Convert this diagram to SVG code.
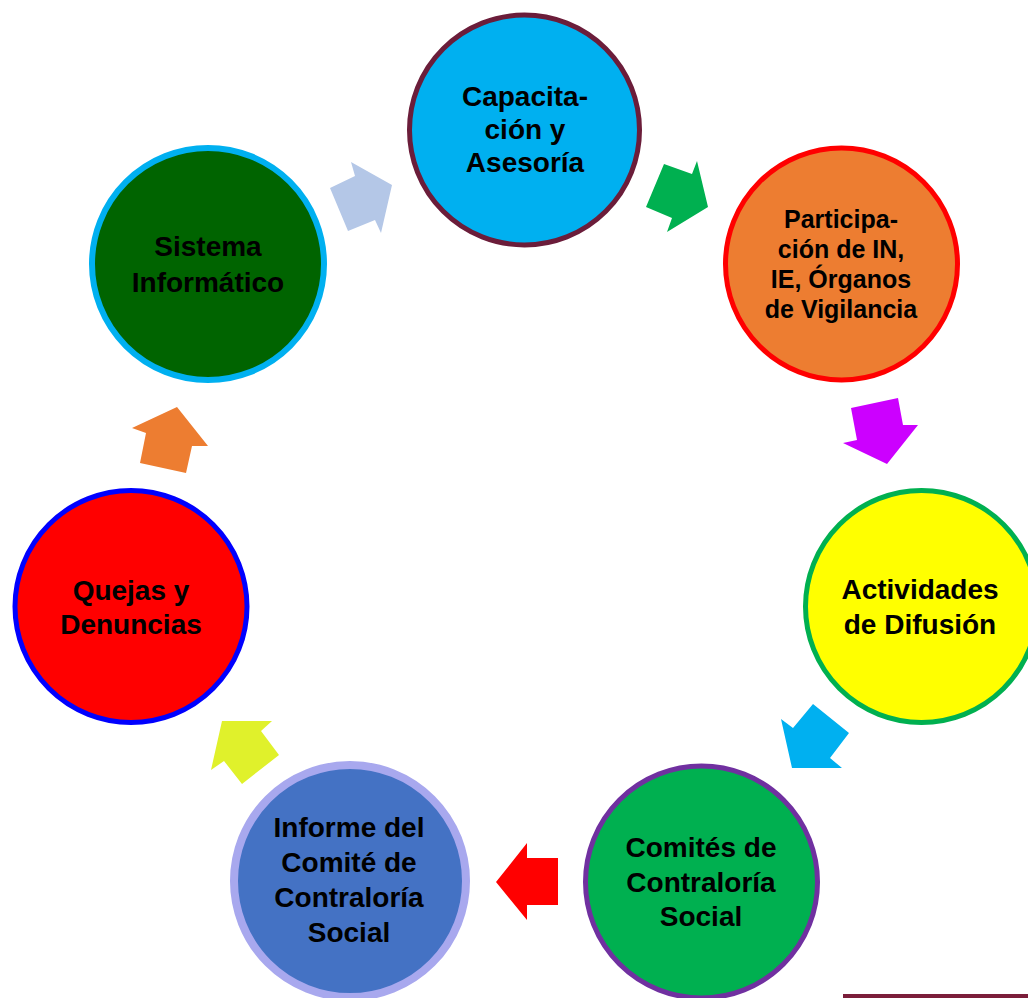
<svg xmlns="http://www.w3.org/2000/svg" width="1028" height="998" viewBox="0 0 1028 998">
<style>
text{font-family:"Liberation Sans",Arial,sans-serif;font-weight:bold;font-size:28px;fill:#000;text-anchor:middle}
.sm{font-size:25px}
</style>
<rect width="1028" height="998" fill="#fff"/>
<g id="connectors">
<polygon points="351,162 355,176 330,188 348,231 375,220 381,233 392,185" fill="#B4C7E7"/>
<polygon points="664,164 692,174 697,161 708,207 667,232 672,218 646,207" fill="#00B050"/>
<polygon points="851,408 898,398 903,425 918,425 887,464 843,443 857,440" fill="#CC00FF"/>
<polygon points="781,719 793,728 813,704 849,733 830,758 842,768 792,768" fill="#00B0F0"/>
<polygon points="496,882 527,843 527,858 558,858 558,905 527,905 527,920" fill="#FF0000"/>
<polygon points="222,721 272,721 261,731 279,755 242,784 224,761 211,770" fill="#E0F12B"/>
<polygon points="177,407 208,446 192,446 186,473 140,463 146,433 132,428" fill="#ED7D31"/>
</g>
<g id="capacitacion">
<circle cx="524.5" cy="130" r="115" fill="#00B0F0" stroke="#6B1D3A" stroke-width="5"/>
<text x="525" y="106">Capacita-</text>
<text x="525" y="139">ción y</text>
<text x="525" y="172">Asesoría</text>
</g>
<g id="participacion">
<circle cx="841.5" cy="264" r="116" fill="#ED7D31" stroke="#FF0000" stroke-width="5"/>
<text class="sm" x="841" y="228">Participa-</text>
<text class="sm" x="841" y="258">ción de IN,</text>
<text class="sm" x="841" y="288">IE, Órganos</text>
<text class="sm" x="841" y="318">de Vigilancia</text>
</g>
<g id="actividades">
<circle cx="921.5" cy="606.5" r="116" fill="#FFFF00" stroke="#00B050" stroke-width="5"/>
<text x="920" y="599">Actividades</text>
<text x="920" y="634">de Difusión</text>
</g>
<g id="comites">
<circle cx="701.5" cy="882" r="116" fill="#00B050" stroke="#7030A0" stroke-width="5"/>
<text x="701" y="857">Comités de</text>
<text x="701" y="892">Contraloría</text>
<text x="701" y="926">Social</text>
</g>
<g id="informe">
<circle cx="350" cy="881" r="116" fill="#4472C4" stroke="#A8A8EE" stroke-width="8"/>
<text x="349" y="837">Informe del</text>
<text x="349" y="872">Comité de</text>
<text x="349" y="907">Contraloría</text>
<text x="349" y="942">Social</text>
</g>
<g id="quejas">
<circle cx="131" cy="606.5" r="116" fill="#FF0000" stroke="#0000FF" stroke-width="5"/>
<text x="131" y="600">Quejas y</text>
<text x="131" y="634">Denuncias</text>
</g>
<g id="sistema">
<circle cx="208" cy="264" r="116" fill="#006400" stroke="#00B0F0" stroke-width="6"/>
<text x="208" y="256">Sistema</text>
<text x="208" y="292">Informático</text>
</g>
<rect x="843" y="994" width="185" height="4" fill="#7B1E3A"/>
</svg>
